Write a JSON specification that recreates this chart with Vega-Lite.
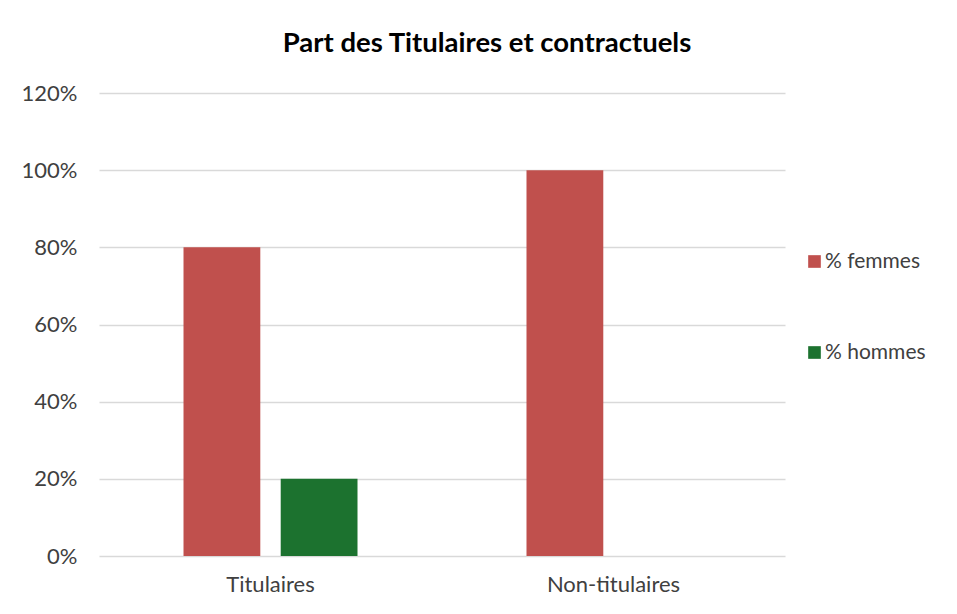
{
  "$schema": "https://vega.github.io/schema/vega-lite/v6.json",
  "width": 686,
  "height": 463,
  "autosize": {"type": "none"},
  "padding": {"left": 99, "top": 93, "right": 172, "bottom": 58},
  "background": "white",
  "config": {
    "font": "Lato",
    "view": {"stroke": null}
  },
  "title": {
    "text": "Part des Titulaires et contractuels",
    "font": "Lato",
    "fontSize": 27.5,
    "fontWeight": "bold",
    "color": "#000000",
    "anchor": "middle",
    "dx": 45,
    "dy": 27,
    "baseline": "alphabetic",
    "offset": 30
  },
  "data": {
    "values": [
      {"categorie": "Titulaires", "sexe": "% femmes", "part": 0.8},
      {"categorie": "Titulaires", "sexe": "% hommes", "part": 0.2},
      {"categorie": "Non-titulaires", "sexe": "% femmes", "part": 1.0},
      {"categorie": "Non-titulaires", "sexe": "% hommes", "part": 0.0}
    ]
  },
  "mark": {"type": "bar"},
  "encoding": {
    "x": {
      "field": "categorie",
      "type": "nominal",
      "sort": ["Titulaires", "Non-titulaires"],
      "scale": {"paddingInner": 0.4927, "paddingOuter": 0.2464},
      "axis": {
        "title": null,
        "labelAngle": 0,
        "ticks": false,
        "domain": false,
        "labelFontSize": 22,
        "labelColor": "#404040",
        "labelPadding": 18,
        "labelFont": "Lato"
      }
    },
    "xOffset": {
      "field": "sexe",
      "type": "nominal",
      "scale": {"paddingInner": 0.21, "paddingOuter": 0}
    },
    "y": {
      "field": "part",
      "type": "quantitative",
      "scale": {"domain": [0, 1.2], "nice": false},
      "axis": {
        "title": null,
        "values": [0, 0.2, 0.4, 0.6, 0.8, 1.0, 1.2],
        "format": ".0%",
        "ticks": false,
        "domain": false,
        "grid": true,
        "gridColor": "#d9d9d9",
        "gridWidth": 1.5,
        "labelFontSize": 22,
        "labelColor": "#404040",
        "labelPadding": 22,
        "labelFont": "Lato"
      }
    },
    "color": {
      "field": "sexe",
      "type": "nominal",
      "scale": {"domain": ["% femmes", "% hommes"], "range": ["#c0504d", "#1c722f"]},
      "legend": {
        "title": null,
        "orient": "none",
        "legendX": 705,
        "legendY": 158,
        "symbolType": "square",
        "symbolSize": 160,
        "symbolStrokeWidth": 0,
        "labelFontSize": 21,
        "labelColor": "#404040",
        "labelFont": "Lato",
        "labelOffset": 0,
        "rowPadding": 69
      }
    }
  }
}
